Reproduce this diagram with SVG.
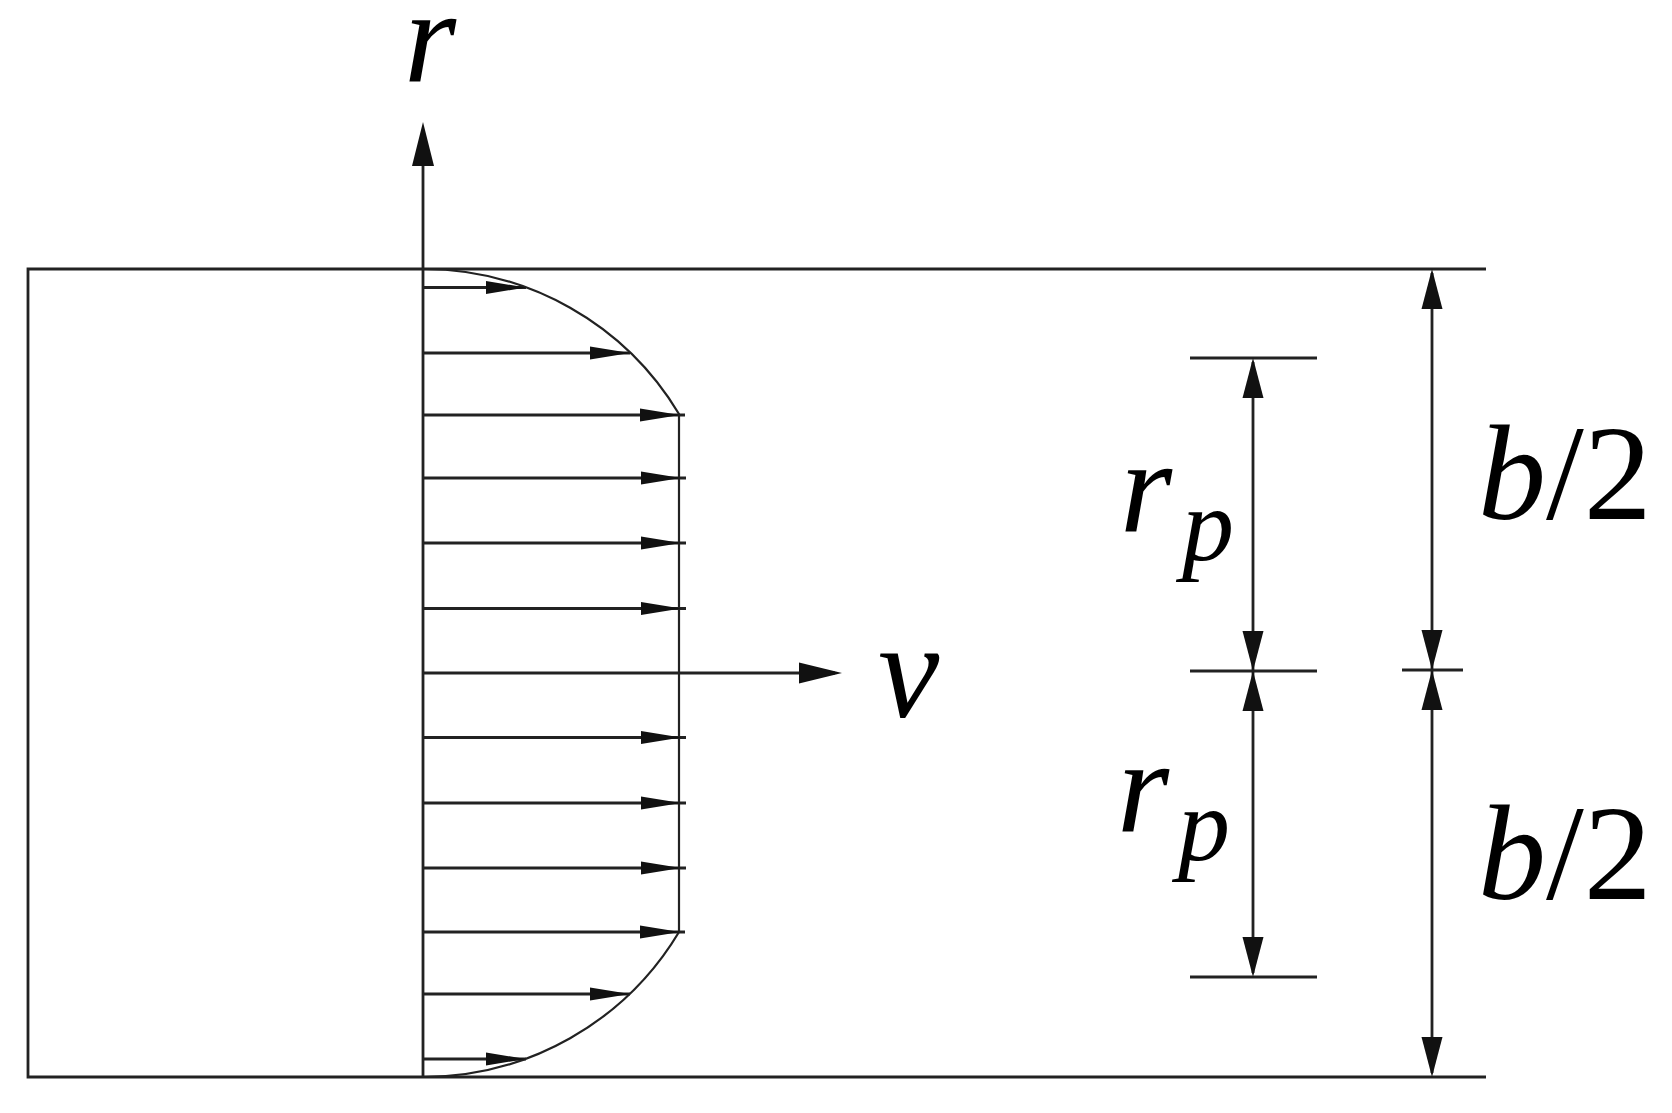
<svg xmlns="http://www.w3.org/2000/svg" xmlns:xlink="http://www.w3.org/1999/xlink" width="1672" height="1113" viewBox="0 0 1672 1113">
<style>
.ln{stroke:#222;stroke-width:2.8;fill:none}
.thin{stroke:#222;stroke-width:2.2;fill:none}
.hd{fill:#111;stroke:none}
.lbl{font-family:"Liberation Serif","Times New Roman",serif;font-style:italic;fill:#000}
.up{font-style:normal}
</style>
<defs>
<path id="hv" class="hd" d="M0,0 L-40,-6.5 L-40,6.5 Z"/>
<path id="hbig" class="hd" d="M0,0 L-43,-10.5 L-43,10.5 Z"/>
<path id="hax" class="hd" d="M0,0 L-11,44 L11,44 Z"/>
<path id="hup" class="hd" d="M0,0 L-10.5,40 L10.5,40 Z"/>
<path id="hdn" class="hd" d="M0,0 L-10.5,-40 L10.5,-40 Z"/>
</defs>
<rect width="1672" height="1113" fill="#fff"/>

<g id="channel">
<path class="ln" d="M1486,269 L28,269 L28,1077 L1486,1077"/>
</g>

<g id="profile">
<path class="thin" d="M423,269 A298.5,298.5 0 0 1 679,414 L679,932 A298.5,298.5 0 0 1 423,1077"/>
</g>

<g id="r-axis">
<line class="ln" x1="423" y1="1077" x2="423" y2="130"/>
<use xlink:href="#hax" x="423" y="122"/>
<text class="lbl" x="404" y="82" font-size="134">r</text>
</g>

<g id="velocity-arrows">
<line class="ln" x1="423" y1="287.5" x2="526" y2="287.5"/><use xlink:href="#hv" x="526" y="287.5"/>
<line class="ln" x1="423" y1="353" x2="630" y2="353"/><use xlink:href="#hv" x="630" y="353"/>
<line class="ln" x1="423" y1="415" x2="685" y2="415"/><use xlink:href="#hv" x="680" y="415"/>
<line class="ln" x1="423" y1="478" x2="686" y2="478"/><use xlink:href="#hv" x="681" y="478"/>
<line class="ln" x1="423" y1="543" x2="686" y2="543"/><use xlink:href="#hv" x="681" y="543"/>
<line class="ln" x1="423" y1="608.5" x2="686" y2="608.5"/><use xlink:href="#hv" x="681" y="608.5"/>
<line class="ln" x1="423" y1="737.5" x2="686" y2="737.5"/><use xlink:href="#hv" x="681" y="737.5"/>
<line class="ln" x1="423" y1="803" x2="686" y2="803"/><use xlink:href="#hv" x="681" y="803"/>
<line class="ln" x1="423" y1="868" x2="686" y2="868"/><use xlink:href="#hv" x="681" y="868"/>
<line class="ln" x1="423" y1="932" x2="685" y2="932"/><use xlink:href="#hv" x="680" y="932"/>
<line class="ln" x1="423" y1="994" x2="630" y2="994"/><use xlink:href="#hv" x="630" y="994"/>
<line class="ln" x1="423" y1="1059" x2="526" y2="1059"/><use xlink:href="#hv" x="526" y="1059"/>
</g>

<g id="v-arrow">
<line class="ln" x1="423" y1="673" x2="835" y2="673"/>
<use xlink:href="#hbig" x="842" y="673"/>
<text class="lbl" x="878" y="717" font-size="138">v</text>
</g>

<g id="dim-rp">
<line class="ln" x1="1190" y1="358" x2="1317" y2="358"/>
<line class="ln" x1="1190" y1="671" x2="1317" y2="671"/>
<line class="ln" x1="1190" y1="977" x2="1317" y2="977"/>
<line class="ln" x1="1253" y1="362" x2="1253" y2="973"/>
<use xlink:href="#hup" x="1253" y="358"/>
<use xlink:href="#hdn" x="1253" y="671"/>
<use xlink:href="#hup" x="1253" y="671"/>
<use xlink:href="#hdn" x="1253" y="977"/>
<text class="lbl" x="1120" y="531.7" font-size="134">r</text>
<text class="lbl" x="1182" y="560" font-size="104">p</text>
<text class="lbl" x="1117" y="831.7" font-size="134">r</text>
<text class="lbl" x="1178" y="860" font-size="104">p</text>
</g>

<g id="dim-b2">
<line class="ln" x1="1402" y1="670" x2="1463" y2="670"/>
<line class="ln" x1="1432" y1="273" x2="1432" y2="1073"/>
<use xlink:href="#hup" x="1432" y="269"/>
<use xlink:href="#hdn" x="1432" y="670"/>
<use xlink:href="#hup" x="1432" y="670"/>
<use xlink:href="#hdn" x="1432" y="1077"/>
<text class="lbl" x="1478" y="519" font-size="136">b<tspan class="up">/2</tspan></text>
<text class="lbl" x="1478" y="899" font-size="136">b<tspan class="up">/2</tspan></text>
</g>
</svg>
